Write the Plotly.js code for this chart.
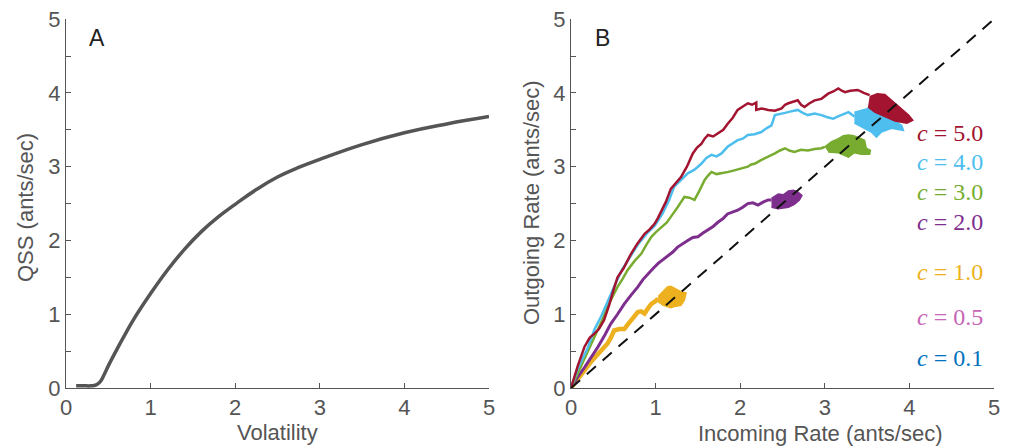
<!DOCTYPE html>
<html>
<head>
<meta charset="utf-8">
<script src="https://cdn.plot.ly/plotly-3.0.1.min.js"></script>
<style>html,body{margin:0;padding:0;background:#fff}#chart{width:1016px;height:446px}</style>
</head>
<body>
<div id="chart"></div>
<script>
// ---- Panel A: QSS vs Volatility ----
const volX = [0.12,0.2,0.3,0.35,0.4,0.45,0.5,0.6,0.7,0.8,1.0,1.2,1.4,1.6,1.8,2.0,2.25,2.5,2.75,3.0,3.5,4.0,4.5,5.0];
const qssY = [0.03,0.03,0.03,0.04,0.08,0.18,0.30,0.52,0.73,0.93,1.28,1.60,1.88,2.12,2.32,2.49,2.69,2.86,2.99,3.10,3.30,3.46,3.58,3.68];

// ---- Panel B: Outgoing vs Incoming rate, by c ----
const redX = [0,0.08,0.16,0.22,0.28,0.33,0.39,0.45,0.50,0.55,0.62,0.71,0.78,0.87,0.93,0.99,1.03,1.07,1.12,1.18,1.24,1.30,1.37,1.44,1.49,1.54,1.58,1.62,1.68,1.74,1.80,1.85,1.91,1.97,2.03,2.09,2.14,2.19,2.19,2.25,2.33,2.41,2.49,2.53,2.57,2.62,2.68,2.72,2.76,2.82,2.88,2.96,3.04,3.10,3.16,3.20,3.24,3.30,3.39,3.46,3.53];
const redY = [0,0.30,0.56,0.68,0.74,0.80,0.92,1.12,1.32,1.50,1.62,1.82,1.95,2.09,2.15,2.23,2.31,2.41,2.52,2.70,2.78,2.86,3.00,3.18,3.26,3.31,3.38,3.43,3.41,3.45,3.50,3.58,3.66,3.77,3.82,3.86,3.84,3.87,3.77,3.79,3.77,3.76,3.79,3.84,3.86,3.88,3.90,3.84,3.81,3.86,3.90,3.92,3.99,4.02,4.06,4.03,4.01,4.03,4.04,4.00,3.97];
const redBlobX = [3.53,3.62,3.71,3.79,3.89,3.99,4.04,3.97,3.83,3.71,3.59,3.51];
const redBlobY = [3.95,3.99,3.98,3.90,3.81,3.70,3.63,3.59,3.62,3.68,3.74,3.81];

const cyanX = [0,0.08,0.20,0.28,0.36,0.44,0.52,0.60,0.70,0.80,0.90,0.99,1.08,1.16,1.22,1.30,1.38,1.46,1.54,1.60,1.66,1.72,1.78,1.85,1.91,1.97,2.03,2.09,2.17,2.25,2.31,2.37,2.41,2.47,2.53,2.60,2.68,2.74,2.80,2.88,2.96,3.03,3.10,3.15,3.20,3.28,3.35];
const cyanY = [0,0.26,0.55,0.80,0.98,1.20,1.40,1.60,1.78,1.96,2.10,2.20,2.36,2.55,2.73,2.82,2.91,2.96,3.04,3.12,3.16,3.14,3.18,3.27,3.31,3.36,3.38,3.43,3.44,3.47,3.52,3.56,3.70,3.72,3.73,3.75,3.77,3.73,3.70,3.72,3.70,3.67,3.65,3.68,3.70,3.74,3.68];
const cyanBlobX = [3.35,3.43,3.51,3.59,3.67,3.79,3.91,3.93,3.79,3.67,3.61,3.55,3.43,3.35];
const cyanBlobY = [3.74,3.77,3.79,3.76,3.70,3.65,3.56,3.49,3.52,3.47,3.40,3.47,3.54,3.59];

const greenX = [0,0.08,0.16,0.24,0.32,0.38,0.43,0.49,0.55,0.61,0.67,0.75,0.83,0.89,0.95,1.01,1.07,1.13,1.18,1.22,1.26,1.30,1.34,1.40,1.46,1.52,1.58,1.62,1.66,1.72,1.78,1.86,1.93,2.01,2.09,2.13,2.17,2.23,2.29,2.35,2.41,2.47,2.53,2.58,2.64,2.72,2.80,2.88,2.96,3.00];
const greenY = [0,0.20,0.38,0.58,0.78,0.95,1.10,1.24,1.37,1.48,1.60,1.72,1.82,1.94,2.05,2.12,2.18,2.24,2.32,2.38,2.45,2.52,2.59,2.58,2.55,2.68,2.82,2.88,2.93,2.90,2.91,2.93,2.95,2.97,3.00,3.03,3.04,3.08,3.11,3.14,3.18,3.22,3.25,3.22,3.20,3.23,3.22,3.24,3.25,3.27];
const greenBlobX = [3.00,3.08,3.16,3.22,3.28,3.34,3.39,3.47,3.49,3.54,3.53,3.43,3.35,3.28,3.16,3.04];
const greenBlobY = [3.27,3.34,3.38,3.42,3.43,3.42,3.40,3.36,3.25,3.22,3.17,3.17,3.19,3.13,3.19,3.20];

const purpleX = [0,0.08,0.16,0.24,0.32,0.40,0.47,0.55,0.63,0.71,0.79,0.85,0.91,0.97,1.03,1.09,1.14,1.20,1.26,1.32,1.38,1.44,1.50,1.56,1.62,1.68,1.74,1.80,1.85,1.91,1.97,2.03,2.09,2.15,2.21,2.27,2.33,2.37];
const purpleY = [0,0.15,0.28,0.42,0.56,0.72,0.87,1.00,1.14,1.26,1.37,1.47,1.55,1.62,1.69,1.74,1.78,1.84,1.91,1.96,2.00,2.04,2.05,2.10,2.14,2.19,2.25,2.30,2.36,2.38,2.41,2.45,2.50,2.51,2.48,2.52,2.55,2.55];
const purpleBlobX = [2.37,2.45,2.51,2.57,2.63,2.68,2.73,2.70,2.64,2.57,2.45,2.37];
const purpleBlobY = [2.57,2.63,2.62,2.67,2.68,2.66,2.61,2.55,2.49,2.45,2.43,2.45];

const yellowX = [0,0.08,0.16,0.24,0.32,0.38,0.43,0.47,0.51,0.57,0.63,0.67,0.71,0.75,0.79,0.83,0.87,0.91,0.95,0.99,1.03];
const yellowY = [0,0.13,0.24,0.36,0.47,0.55,0.60,0.68,0.78,0.80,0.80,0.86,0.92,0.98,1.03,1.04,1.01,1.08,1.14,1.17,1.21];
const yellowBlobX = [1.03,1.10,1.14,1.18,1.22,1.26,1.31,1.36,1.34,1.30,1.24,1.18,1.09,1.03];
const yellowBlobY = [1.24,1.32,1.37,1.38,1.36,1.33,1.30,1.29,1.19,1.12,1.11,1.09,1.12,1.17];

const diagX = [0,5];
const diagY = [0,5];

const cLabels = ['<i>c</i> = 5.0','<i>c</i> = 4.0','<i>c</i> = 3.0','<i>c</i> = 2.0','<i>c</i> = 1.0','<i>c</i> = 0.5','<i>c</i> = 0.1'];
const cLabelY = [3.46,3.06,2.66,2.25,1.57,0.96,0.41];
const cColors = ['#A2142F','#4DBEEE','#77AC30','#7E2F8E','#EDB120','#C865B6','#0072BD'];

const yTickVals = [0,0.5,1,1.5,2,2.5,3,3.5,4,4.5,5];
const yTickText = ['0','','1','','2','','3','','4','','5'];
const xTickVals = [0,1,2,3,4,5];

const traces = [];
traces.push({x: volX, y: qssY, xaxis:'x', yaxis:'y', mode:'lines', line:{color:'#555555', width:3.5, shape:'spline', smoothing:1.3}, hoverinfo:'skip'});

function walk(xs, ys, bx, by, col, w){
  traces.push({x: bx, y: by, xaxis:'x2', yaxis:'y2', mode:'lines', fill:'toself', fillcolor:col, line:{color:col, width:1.5}, hoverinfo:'skip'});
  traces.push({x: xs, y: ys, xaxis:'x2', yaxis:'y2', mode:'lines', line:{color:col, width:w}, hoverinfo:'skip'});
}
walk(yellowX, yellowY, yellowBlobX, yellowBlobY, cColors[4], 4.5);
walk(purpleX, purpleY, purpleBlobX, purpleBlobY, cColors[3], 3);
walk(greenX, greenY, greenBlobX, greenBlobY, cColors[2], 2.5);
walk(cyanX, cyanY, cyanBlobX, cyanBlobY, cColors[1], 2.5);
walk(redX, redY, redBlobX, redBlobY, cColors[0], 2.5);
traces.push({x: diagX, y: diagY, xaxis:'x2', yaxis:'y2', mode:'lines', line:{color:'#111111', width:2, dash:'12px,9px'}, hoverinfo:'skip'});

const axFont = {family:'Liberation Sans, Arial, sans-serif', size:22, color:'#555555'};
function xa(domain, anchor){
  return {domain: domain, anchor: anchor, range:[0,5], tickvals:xTickVals, ticktext:xTickVals.map(String), ticks:'inside', ticklen:5, tickwidth:1, tickcolor:'#555', showline:true, linecolor:'#555', linewidth:1, showgrid:false, zeroline:false, tickfont:axFont, fixedrange:true};
}
function ya(anchor){
  return {domain:[0.130,0.957], anchor: anchor, range:[0,5], tickvals:yTickVals, ticktext:yTickText, ticks:'inside', ticklen:5, tickwidth:1, tickcolor:'#555', showline:true, linecolor:'#555', linewidth:1, showgrid:false, zeroline:false, tickfont:axFont, fixedrange:true};
}

const titleFont = {family:'Liberation Sans, Arial, sans-serif', size:22, color:'#555555'};
const ann = (o)=>Object.assign({showarrow:false, xanchor:'center', yanchor:'middle'}, o);
const annotations = [
  ann({text:'A', x:0.37, y:4.74, xref:'x', yref:'y', font:{family:'Liberation Sans, Arial, sans-serif', size:23, color:'#222'}}),
  ann({text:'B', x:0.37, y:4.74, xref:'x2', yref:'y2', font:{family:'Liberation Sans, Arial, sans-serif', size:23, color:'#222'}}),
  ann({text:'Volatility', x:277/1016, y:1-432/446, xref:'paper', yref:'paper', font:titleFont}),
  ann({text:'Incoming Rate (ants/sec)', x:820/1016, y:1-433/446, xref:'paper', yref:'paper', font:titleFont}),
  ann({text:'QSS (ants/sec)', x:25/1016, y:1-208/446, xref:'paper', yref:'paper', textangle:-90, font:titleFont}),
  ann({text:'Outgoing Rate (ants/sec)', x:531/1016, y:1-203/446, xref:'paper', yref:'paper', textangle:-90, font:titleFont})
];
cLabels.forEach((t,i)=>{
  annotations.push(ann({text:t.replace(/ = /,'\u2005=\u2005'), x:4.07, y:cLabelY[i], xref:'x2', yref:'y2', xanchor:'left', font:{family:'Liberation Serif, DejaVu Serif, serif', size:24, color:cColors[i]}}));
});

const layout = {
  width:1016, height:446, margin:{l:0,r:0,t:0,b:0}, paper_bgcolor:'#fff', plot_bgcolor:'#fff', showlegend:false,
  xaxis: xa([66/1016, 489/1016], 'y'),
  yaxis: ya('x'),
  xaxis2: xa([571/1016, 994/1016], 'y2'),
  yaxis2: ya('x2'),
  annotations: annotations
};
Plotly.newPlot('chart', traces, layout, {displayModeBar:false, staticPlot:true});
</script>
</body>
</html>
